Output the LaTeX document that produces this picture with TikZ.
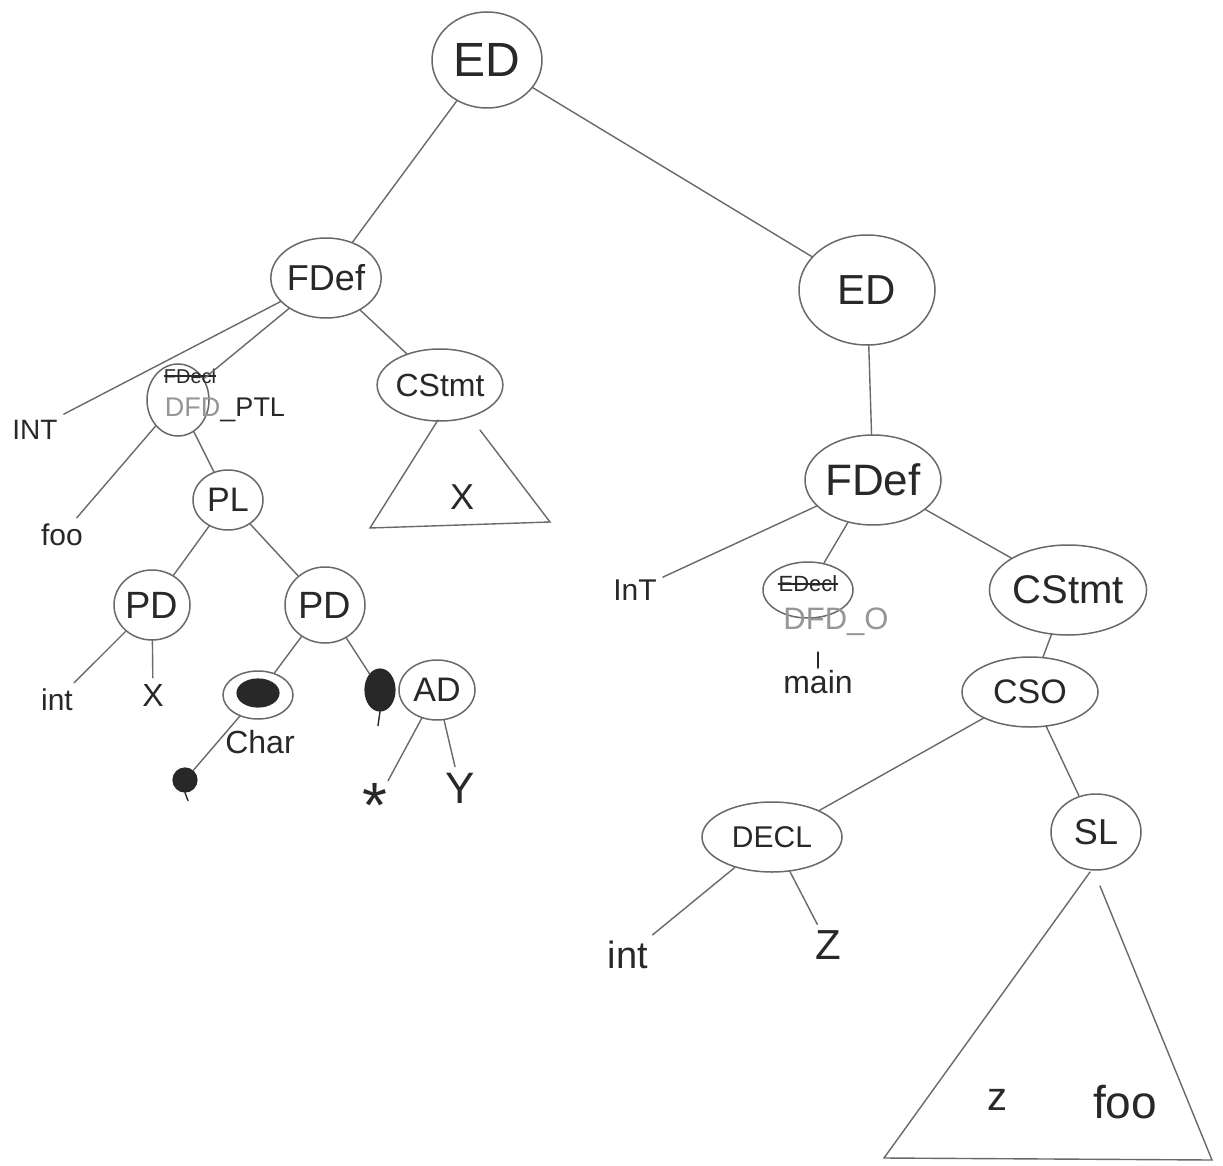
\documentclass[tikz,border=0pt]{standalone}
\usepackage{fontspec}
\setmainfont{Liberation Sans}
\usetikzlibrary{shapes.geometric}
\newcommand\fsz[1]{\fontsize{#1}{#1}\selectfont}
\definecolor{pencil}{RGB}{105,105,105}
\definecolor{ink}{RGB}{40,40,40}
\definecolor{faded}{RGB}{150,150,150}
\tikzset{
  nd/.style={ellipse, draw=pencil, line width=1.5pt, inner sep=0pt, text=ink},
  lf/.style={text=ink, inner sep=6pt},
  edge/.style={draw=pencil, line width=1.4pt, line cap=round},
  strike/.style={draw=ink, line width=1.8pt},
  blob/.style={ellipse, fill=ink, draw=ink, line width=1.2pt, inner sep=0pt},
}
\begin{document}
\begin{tikzpicture}[x=1pt,y=-1pt]
\useasboundingbox (0,0) rectangle (1223,1166);
\fill[white] (0,0) rectangle (1223,1166);

% ---------- inner nodes ----------
\node[nd, minimum width=110, minimum height=96, font=\fsz{48}] (ed1) at (487,60) {ED};
\node[nd, minimum width=96, minimum height=80, font=\fsz{36}] (fdef1) at (326,278) {FDef};
\node[nd, minimum width=136, minimum height=110, font=\fsz{42}] (ed2) at (867,290) {ED};

\node[nd, minimum width=62, minimum height=72] (fdecl1) at (178,400) {};
\node[text=ink, inner sep=0pt, font=\fsz{20}] (fdecltx1) at (190,376) {FDecl};
\node[inner sep=0pt, font=\fsz{27}] (dfdptl) at (225,410) {\textcolor{faded}{DFD}\textcolor{ink}{\_PTL}};

\node[nd, minimum width=120, minimum height=72, font=\fsz{32}] (cs1) at (440,385) {CStmt};
\node[nd, minimum width=70, minimum height=60, font=\fsz{34}] (pl) at (228,500) {PL};
\node[nd, minimum width=76, minimum height=70, font=\fsz{38}] (pd1) at (152,605) {PD};
\node[nd, minimum width=80, minimum height=76, font=\fsz{38}] (pd2) at (325,605) {PD};
\node[nd, minimum width=70, minimum height=48] (chn) at (258,695) {};
\node[blob, minimum width=42, minimum height=28] (chblob) at (258,693) {};
\node[blob, minimum width=30, minimum height=42] (adblob) at (380,690) {};
\node[nd, minimum width=76, minimum height=60, font=\fsz{34}] (ad) at (437,690) {AD};
\node[blob, minimum width=24, minimum height=24] (sblob) at (185,780) {};

\node[nd, minimum width=136, minimum height=90, font=\fsz{44}] (fdef2) at (873,480) {FDef};
\node[nd, minimum width=90, minimum height=56] (fdecl2) at (808,590) {};
\node[text=ink, inner sep=0pt, font=\fsz{22}] (fdecltx2) at (808,584) {EDecl};
\node[text=faded, inner sep=2pt, font=\fsz{31}] (dfdo) at (836,622) {DFD\_O};
\node[nd, minimum width=156, minimum height=90, font=\fsz{40}] (cs2) at (1068,590) {CStmt};
\node[nd, minimum width=136, minimum height=70, font=\fsz{34}] (cso) at (1030,692) {CSO};
\node[nd, minimum width=140, minimum height=70, font=\fsz{30}] (decl) at (772,837) {DECL};
\node[nd, minimum width=90, minimum height=76, font=\fsz{36}] (sl) at (1096,832) {SL};

% ---------- leaves ----------
\node[lf, font=\fsz{28}] (int1) at (35,430) {INT};
\node[lf, font=\fsz{30}] (foo1) at (62,535) {foo};
\node[lf, font=\fsz{30}] (int2) at (57,700) {int};
\node[lf, font=\fsz{32}] (x1) at (153,695) {X};
\node[lf, font=\fsz{32}] (char) at (260,742) {Char};
\node[lf, font=\fsz{64}, inner sep=2pt] (star) at (375,805) {*};
\node[lf, font=\fsz{44}] (y1) at (460,788) {Y};
\node[lf, font=\fsz{30}] (int3) at (635,590) {InT};
\node[lf, font=\fsz{32}, inner sep=2pt] (main) at (818,682) {main};
\node[lf, font=\fsz{38}] (int4) at (628,955) {int};
\node[lf, font=\fsz{42}] (z1) at (828,945) {Z};

% ---------- strike-outs ----------
\draw[strike] (fdecltx1.west) -- (fdecltx1.east);
\draw[strike] (fdecltx2.west) -- (fdecltx2.east);

% ---------- connectors ----------
\draw[edge] (ed1) -- (fdef1);
\draw[edge] (ed1) -- (ed2);
\draw[edge] (ed2) -- (fdef2);

\draw[edge] (fdef1) -- (int1.north east);
\draw[edge] (fdef1) -- (fdecl1);
\draw[edge] (fdef1) -- (cs1);
\draw[edge] (fdecl1) -- (foo1);
\draw[edge] (fdecl1) -- (pl);
\draw[edge] (pl) -- (pd1);
\draw[edge] (pl) -- (pd2);
\draw[edge] (pd1) -- (int2);
\draw[edge] (pd1) -- (x1);
\draw[edge] (pd2) -- (chn);
\draw[edge] (pd2) -- (adblob);
\draw[edge] (chn) -- (sblob);
\draw[edge] (ad) -- (star);
\draw[edge] (ad) -- (y1);
\draw[edge, draw=ink] (adblob.south) -- ++(-2,14);
\draw[edge, draw=ink] (sblob.south) -- ++(3,8);

\draw[edge] (fdef2) -- (int3);
\draw[edge] (fdef2) -- (fdecl2);
\draw[edge] (fdef2) -- (cs2);
\draw[edge, draw=ink] (main.north) -- ++(0,-16);
\draw[edge] (cs2) -- (cso);
\draw[edge] (cso) -- (decl);
\draw[edge] (cso) -- (sl);
\draw[edge] (decl) -- (int4);
\draw[edge] (decl) -- (z1);

% ---------- subtree triangles ----------
\coordinate (t1a) at (438,420);
\coordinate (t1b) at (370,528);
\coordinate (t1c) at (550,522);
\coordinate (t1d) at (480,430);
\draw[edge] (t1a) -- (t1b) -- (t1c) -- (t1d);
\node[lf, font=\fsz{36}] (tx) at (462,497) {X};

\coordinate (t2a) at (1090,872);
\coordinate (t2b) at (884,1158);
\coordinate (t2c) at (1212,1160);
\coordinate (t2d) at (1100,886);
\draw[edge] (t2a) -- (t2b) -- (t2c) -- (t2d);
\node[lf, font=\fsz{40}] (tz) at (997,1100) {z};
\node[lf, font=\fsz{46}] (tfoo) at (1125,1102) {foo};
\end{tikzpicture}
\end{document}
